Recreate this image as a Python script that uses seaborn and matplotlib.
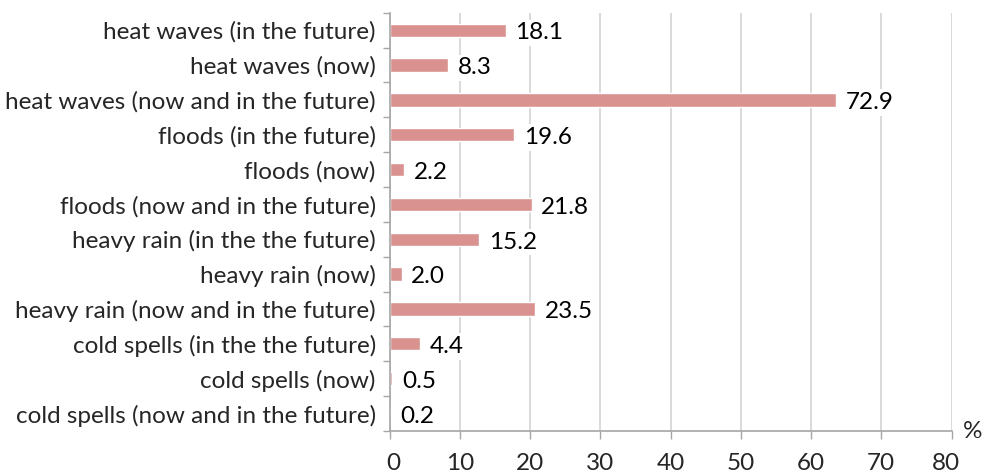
import numpy as np
import pandas as pd
import seaborn as sns
import matplotlib.pyplot as plt
import matplotlib.transforms as mtransforms

# categories, top to bottom as in the chart
categories = [
    "heat waves (in the future)",
    "heat waves (now)",
    "heat waves (now and in the future)",
    "floods (in the future)",
    "floods (now)",
    "floods (now and in the future)",
    "heavy rain (in the the future)",
    "heavy rain (now)",
    "heavy rain (now and in the future)",
    "cold spells (in the the future)",
    "cold spells (now)",
    "cold spells (now and in the future)",
]
# bar lengths as drawn in the picture
bar_lengths = [16.5, 8.3, 63.5, 17.7, 2.1, 20.2, 12.7, 1.7, 20.7, 4.35, 0.4, 0.15]
# printed data labels
value_labels = ["18.1", "8.3", "72.9", "19.6", "2.2", "21.8",
                "15.2", "2.0", "23.5", "4.4", "0.5", "0.2"]
x_ticks = [0, 10, 20, 30, 40, 50, 60, 70, 80]

sns.set_style("white")
plt.rcParams['font.family'] = ['Lato', 'DejaVu Sans']
fs = 17.5

fig = plt.figure(figsize=(9.84, 4.73), dpi=100)
ax = fig.add_axes([0.396, 0.089, 0.571, 0.884])

df = pd.DataFrame({"event": categories, "share": bar_lengths})
sns.barplot(data=df, x="share", y="event", color="#D9928F", saturation=1,
            width=0.38, ax=ax)

# data labels with white background (they hide the gridlines)
for patch, label in zip(ax.patches, value_labels):
    y = patch.get_y() + patch.get_height() / 2
    ax.annotate(label, (patch.get_width(), y), xytext=(7, -2),
                textcoords="offset points", ha="left", va="center",
                fontsize=fs, color="black", zorder=4,
                bbox=dict(fc="white", ec="none", pad=2))

ax.set_xlim(0, 80)
ax.set_xticks(x_ticks)
ax.set_xlabel("")
ax.set_ylabel("")
ax.set_axisbelow(True)
ax.xaxis.grid(True, color="#d3d3d3", lw=1.2)
ax.yaxis.grid(False)

# y ticks sit between the categories
ax.set_yticks(np.arange(-0.5, len(categories), 1), minor=True)
ax.tick_params(axis="y", which="major", length=0, pad=10, labelsize=fs)
ax.tick_params(axis="y", which="minor", length=5, width=1, color="#a6a6a6",
               left=True, direction="out")
ax.tick_params(axis="x", length=6, width=1, color="#a6a6a6", direction="out",
               bottom=True, pad=10, labelsize=fs)

# nudge the end labels inwards a little, like the original
xlabels = ax.get_xticklabels()
for lab, dx in [(xlabels[0], 4), (xlabels[-1], -6)]:
    lab.set_transform(lab.get_transform() +
                      mtransforms.ScaledTranslation(dx / 100, 0, fig.dpi_scale_trans))

sns.despine(ax=ax)
for side in ["left", "bottom"]:
    ax.spines[side].set_color("#a6a6a6")
    ax.spines[side].set_linewidth(1.2)

fig.text(0.988, 0.087, "%", ha="center", va="center", fontsize=fs)

plt.savefig("out.png", dpi=100)
plt.close()
